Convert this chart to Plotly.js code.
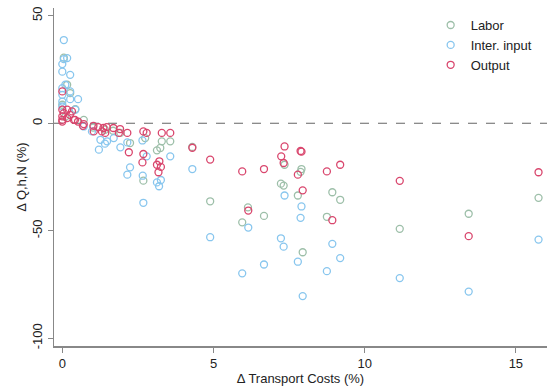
<!DOCTYPE html>
<html>
<head>
<meta charset="utf-8">
<script src="https://cdn.plot.ly/plotly-3.0.1.min.js"></script>
<style>html,body{margin:0;padding:0;background:#fff;}#chart{width:547px;height:387px;}</style>
</head>
<body>
<div id="chart"></div>
<script>
// Labor
const laborX = [0.05,0.16,0.26,0.43,0.71,0.0,0.1,1.02,1.41,1.68,1.92,2.24,2.74,2.68,3.13,3.24,3.29,3.57,4.30,4.89,5.95,6.14,6.67,7.23,7.32,7.35,7.79,7.88,7.91,7.95,8.75,8.93,9.19,11.16,13.44,15.75];
const laborY = [30.5,17.9,14.0,6.6,1.6,8.6,3.0,-2.0,-3.0,-3.5,-4.5,-9.2,-6.9,-26.7,-12.6,-11.5,-8.4,-8.4,-11.0,-36.3,-46.1,-39.1,-43.1,-28.1,-29.0,-19.3,-33.6,-22.6,-21.3,-60.0,-43.5,-32.1,-35.6,-49.1,-42.1,-34.7];
// Intermediate input
const interX = [0.05,0.16,0.05,0.0,0.0,0.26,0.1,0.0,0.26,0.0,0.26,0.52,0.0,0.0,0.43,0.71,0.98,1.26,1.48,1.70,1.21,1.41,1.92,2.15,2.24,2.15,2.65,2.79,2.66,2.68,3.13,3.20,3.26,3.57,4.30,4.89,5.95,6.15,6.67,7.23,7.32,7.35,7.79,7.88,7.91,7.95,8.75,8.93,9.19,11.16,13.44,15.75];
const interY = [38.7,30.3,29.8,27.5,24.0,22.5,17.9,16.3,14.8,13.2,11.2,11.2,10.1,7.8,6.3,-1.5,-3.8,-7.7,-8.4,-6.9,-12.3,-9.5,-11.2,-8.9,-20.5,-23.9,-8.0,-15.4,-24.4,-37.0,-27.5,-29.3,-26.4,-15.4,-21.3,-53.0,-69.8,-48.5,-65.7,-53.5,-57.4,-33.6,-64.4,-44.0,-38.7,-80.4,-68.8,-56.1,-62.7,-72.0,-78.3,-54.1];
// Output
const outX = [0.0,0.0,0.16,0.32,0.05,0.0,0.25,0.0,0.16,0.38,0.52,0.42,0.0,0.71,0.68,1.03,1.04,1.19,1.31,1.36,1.42,1.47,1.69,1.87,1.91,2.15,2.20,2.68,2.79,2.65,2.68,3.13,3.21,3.26,3.18,3.29,3.57,4.30,4.89,5.95,6.15,6.67,7.24,7.32,7.35,7.79,7.88,7.91,7.95,8.75,8.93,9.19,11.16,13.44,15.75];
const outY = [14.8,6.3,6.3,5.5,4.7,3.2,3.9,1.6,2.4,1.6,0.8,1.6,0.8,-0.4,-1.2,-1.2,-3.8,-1.8,-3.8,-2.2,-4.5,-1.8,-2.2,-4.5,-2.7,-4.5,-13.5,-3.8,-4.5,-18.2,-14.3,-19.3,-17.7,-20.3,-22.8,-4.5,-4.5,-11.4,-16.9,-22.4,-40.6,-21.3,-15.4,-18.5,-10.8,-23.9,-12.9,-13.2,-31.2,-22.4,-45.1,-19.3,-26.8,-52.5,-22.8];

const xTicks = [0,5,10,15];
const yTicks = [-100,-50,0,50];

function series(name, x, y, color) {
  return {type:'scatter', mode:'markers', name:name, x:x, y:y,
    marker:{symbol:'circle-open', size:7, color:color, line:{width:1.3, color:color}},
    hoverinfo:'x+y'};
}

const data = [
  series('Labor', laborX, laborY, '#9dbfa9'),
  series('Inter. input', interX, interY, '#88c6ee'),
  series('Output', outX, outY, '#d9466d')
];

const font = {family:'Liberation Sans, Arial, Helvetica, sans-serif', size:12, color:'#222'};

const layout = {
  width:547, height:387,
  margin:{l:54, r:0, t:8, b:41, pad:0},
  paper_bgcolor:'#fff', plot_bgcolor:'#fff',
  font:font,
  showlegend:true,
  legend:{x:0.764, y:0.994, xanchor:'left', yanchor:'top', bgcolor:'rgba(0,0,0,0)',
    font:{family:font.family, size:13, color:'#222'}, tracegroupgap:0, itemwidth:30},
  xaxis:{range:[-0.275,16.03], tickvals:xTicks, ticktext:xTicks.map(String),
    showgrid:false, zeroline:false, showline:true, linecolor:'#888', linewidth:1.5,
    ticks:'outside', ticklen:5, tickcolor:'#888', tickwidth:1,
    tickfont:{family:font.family, size:13, color:'#222'},
    title:{text:'Δ Transport Costs (%)', font:{family:font.family, size:13, color:'#222'}, standoff:2},
    automargin:false},
  yaxis:{range:[-103.6,53.6], tickvals:yTicks, ticktext:yTicks.map(String),
    showgrid:false, zeroline:false, showline:true, linecolor:'#888', linewidth:1.5,
    ticks:'outside', ticklen:5, tickcolor:'#888', tickwidth:1, tickangle:-90,
    tickfont:{family:font.family, size:13, color:'#222'},
    title:{text:'Δ Q,h,N (%)', font:{family:font.family, size:13, color:'#222'}, standoff:0},
    automargin:false},
  shapes:[{type:'line', xref:'paper', x0:0, x1:1, yref:'y', y0:0, y1:0,
    line:{color:'#666', width:1.2, dash:'dash'}, layer:'below'}]
};

Plotly.newPlot('chart', data, layout, {displayModeBar:false, staticPlot:true});
</script>
</body>
</html>
